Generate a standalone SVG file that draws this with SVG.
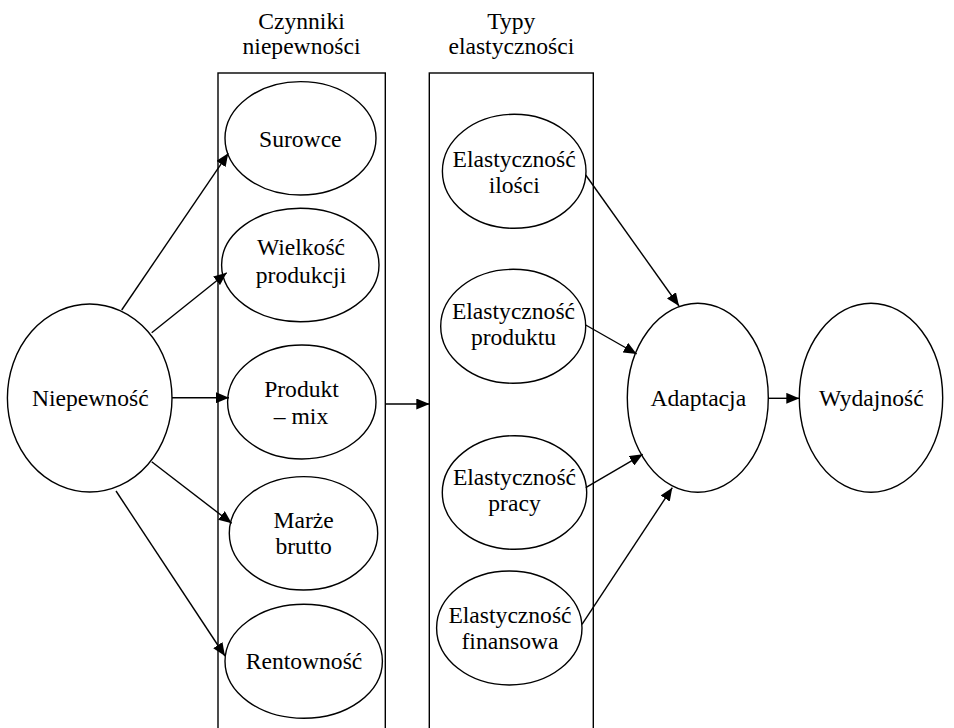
<svg xmlns="http://www.w3.org/2000/svg" width="954" height="728" viewBox="0 0 954 728">
<style>
ellipse,rect{fill:none;stroke:#000;stroke-width:1.4}
.c line{stroke:#000;stroke-width:1.4;marker-end:url(#ah)}
</style>
<defs>
<marker id="ah" markerUnits="userSpaceOnUse" markerWidth="13" markerHeight="11" refX="13" refY="5.5" orient="auto">
<path d="M0,0 L13,5.5 L0,11 z" fill="#000"/>
</marker>
</defs>
<rect width="954" height="728" style="fill:#fff;stroke:none"/>
<g font-family="Liberation Serif" font-size="23.6" text-anchor="middle" fill="#000">
<g id="group-czynniki">
<rect x="218" y="73" width="167.3" height="700"/>
<text x="301.5" y="28.5">Czynniki</text>
<text x="301.5" y="53.5">niepewności</text>
</g>
<g id="group-typy">
<rect x="429.3" y="73" width="164" height="700"/>
<text x="511.3" y="28.5">Typy</text>
<text x="511.3" y="53.5">elastyczności</text>
</g>
<g id="n-niepewnosc">
<ellipse cx="89.7" cy="398" rx="82.3" ry="94"/>
<text x="90.3" y="405.7">Niepewność</text>
</g>
<g id="n-surowce">
<ellipse cx="300.5" cy="138.3" rx="75.5" ry="56.7"/>
<text x="300.3" y="146.5">Surowce</text>
</g>
<g id="n-wielkosc">
<ellipse cx="300.3" cy="265" rx="78.7" ry="56.7"/>
<text x="301" y="255">Wielkość</text>
<text x="301" y="283">produkcji</text>
</g>
<g id="n-produkt">
<ellipse cx="301.8" cy="402" rx="74.2" ry="57"/>
<text x="301.5" y="397.3">Produkt</text>
<text x="301" y="424.3">– mix</text>
</g>
<g id="n-marze">
<ellipse cx="303.5" cy="533.3" rx="74.2" ry="56.7"/>
<text x="303.6" y="528.3">Marże</text>
<text x="303.6" y="554">brutto</text>
</g>
<g id="n-rentownosc">
<ellipse cx="303.7" cy="661.3" rx="78.7" ry="57"/>
<text x="304" y="669">Rentowność</text>
</g>
<g id="n-e-ilosci">
<ellipse cx="514.2" cy="171.3" rx="71.8" ry="57"/>
<text x="514.2" y="166.7">Elastyczność</text>
<text x="514.2" y="192.7">ilości</text>
</g>
<g id="n-e-produktu">
<ellipse cx="513.2" cy="326.3" rx="72.5" ry="57"/>
<text x="513.5" y="319.3">Elastyczność</text>
<text x="513.5" y="345">produktu</text>
</g>
<g id="n-e-pracy">
<ellipse cx="514.5" cy="492.5" rx="72.2" ry="56.8"/>
<text x="514.5" y="485">Elastyczność</text>
<text x="514.5" y="511">pracy</text>
</g>
<g id="n-e-finansowa">
<ellipse cx="509.3" cy="628" rx="72.7" ry="57"/>
<text x="510" y="623.3">Elastyczność</text>
<text x="510" y="649.3">finansowa</text>
</g>
<g id="n-adaptacja">
<ellipse cx="697.8" cy="397.8" rx="70.5" ry="94.5"/>
<text x="698.3" y="405.5">Adaptacja</text>
</g>
<g id="n-wydajnosc">
<ellipse cx="871" cy="397.8" rx="71.7" ry="94.5"/>
<text x="871.3" y="405.5">Wydajność</text>
</g>
</g>
<g id="connectors" class="c">
<line x1="121.7" y1="310" x2="228.3" y2="153.3"/>
<line x1="151.7" y1="332.7" x2="226.7" y2="272.7"/>
<line x1="172" y1="397.7" x2="229" y2="397.7"/>
<line x1="151.7" y1="461.7" x2="231.7" y2="523.3"/>
<line x1="116" y1="491" x2="225" y2="656"/>
<line x1="385.3" y1="404" x2="429.3" y2="404"/>
<line x1="585.7" y1="175" x2="679" y2="306"/>
<line x1="585.7" y1="325" x2="636.7" y2="354"/>
<line x1="585.7" y1="487.7" x2="642.7" y2="454.3"/>
<line x1="582" y1="624.3" x2="672.3" y2="487.7"/>
<line x1="768.3" y1="398.3" x2="799.3" y2="398.3"/>
</g>
</svg>
